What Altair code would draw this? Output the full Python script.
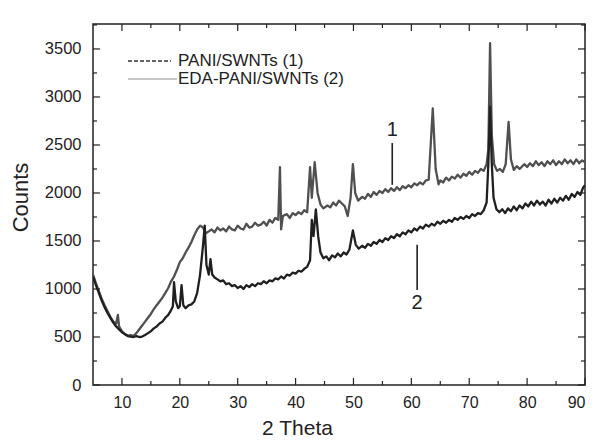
import altair as alt
import pandas as pd

# ---- data ----
x1 = [5.0, 5.5, 6.0, 6.5, 7.0, 7.5, 8.0, 8.5, 9.0, 9.3, 9.5, 10.0, 10.5, 11.0, 11.5, 12.0, 12.5, 13.0, 13.5, 14.0,
      14.5, 15.0, 15.5, 16.0, 16.5, 17.0, 17.5, 18.0, 18.5, 19.0, 19.5, 20.0, 20.5, 21.0, 21.5, 22.0, 22.5, 23.0, 23.5, 24.0,
      24.5, 25.0, 25.5, 26.0, 26.5, 27.0, 27.5, 28.0, 28.5, 29.0, 29.5, 30.0, 30.5, 31.0, 31.5, 32.0, 32.5, 33.0, 33.5, 34.0,
      34.5, 35.0, 35.5, 36.0, 36.5, 37.0, 37.3, 37.5, 37.8, 38.5, 39.0, 39.5, 40.0, 40.5, 41.0, 41.5, 42.0, 42.5, 42.8, 43.3,
      43.8, 44.3, 44.8, 45.5, 46.0, 46.5, 47.0, 47.5, 48.0, 48.5, 49.0, 49.5, 49.9, 50.3, 50.8, 51.5, 52.0, 52.5, 53.0, 53.5,
      54.0, 54.5, 55.0, 55.5, 56.0, 56.5, 57.0, 57.5, 58.0, 58.5, 59.0, 59.5, 60.0, 60.5, 61.0, 61.5, 62.0, 62.5, 63.0, 63.7,
      64.2, 64.7, 65.0, 65.5, 66.0, 66.5, 67.0, 67.5, 68.0, 68.5, 69.0, 69.5, 70.0, 70.5, 71.0, 71.5, 72.0, 72.5, 73.0, 73.3,
      73.6, 73.9, 74.3, 74.8, 75.3, 75.8, 76.3, 76.8, 77.2, 77.7, 78.2, 78.7, 79.5, 80.0, 80.5, 81.0, 81.5, 82.0, 82.5, 83.0,
      83.5, 84.0, 84.5, 85.0, 85.5, 86.0, 86.5, 87.0, 87.5, 88.0, 88.5, 89.0, 89.5, 90.0]
y1 = [1150, 1060, 980, 900, 830, 770, 710, 660, 640, 730, 610, 560, 530, 515, 520, 510, 540, 580, 620, 660,
      700, 740, 790, 830, 870, 910, 960, 1010, 1080, 1130, 1200, 1280, 1320, 1380, 1430, 1490, 1560, 1620, 1660, 1640,
      1580, 1600, 1620, 1590, 1640, 1610, 1630, 1600, 1650, 1620, 1610, 1660, 1630, 1620, 1680, 1640, 1650, 1690, 1660, 1670,
      1700, 1660, 1720, 1690, 1740, 1720, 2270, 1620, 1760, 1780, 1740, 1790, 1770, 1800, 1780, 1820, 1800, 2270, 1950, 2320,
      2000, 1880, 1840, 1870, 1850, 1900, 1870, 1920, 1890, 1860, 1760, 1950, 2300, 2000, 1920, 1960, 1940, 1990, 1960, 2010,
      1980, 2020, 2000, 2040, 2010, 2050, 2020, 2060, 2030, 2070, 2050, 2080, 2060, 2100, 2080, 2110, 2090, 2130, 2140, 2880,
      2250, 2090, 2130, 2110, 2160, 2130, 2170, 2150, 2190, 2160, 2200, 2180, 2220, 2190, 2230, 2210, 2250, 2230, 2300, 2450,
      3560, 2600, 2300, 2230, 2250, 2220, 2300, 2740, 2350, 2240, 2280, 2250, 2300, 2270, 2310, 2280, 2330, 2290, 2320, 2280,
      2330, 2300, 2340, 2290, 2330, 2300, 2350, 2310, 2340, 2300, 2350, 2310, 2340, 2320]

x2 = [5.0, 5.5, 6.0, 6.5, 7.0, 7.5, 8.0, 8.5, 9.0, 9.5, 10.0, 10.5, 11.0, 11.5, 12.0, 12.5, 13.0, 13.5, 14.0, 14.5,
      15.0, 15.5, 16.0, 16.5, 17.0, 17.5, 18.0, 18.5, 18.8, 19.0, 19.3, 19.7, 20.0, 20.3, 20.6, 21.0, 21.5, 22.0, 22.5, 23.0,
      23.5, 24.0, 24.3, 24.6, 25.0, 25.3, 25.6, 26.0, 26.5, 27.0, 27.5, 28.0, 28.5, 29.0, 29.5, 30.0, 30.5, 31.0, 31.5, 32.0,
      32.5, 33.0, 33.5, 34.0, 34.5, 35.0, 35.5, 36.0, 36.5, 37.0, 37.5, 38.0, 38.5, 39.0, 39.5, 40.0, 40.5, 41.0, 41.5, 42.0,
      42.5, 42.8, 43.1, 43.5, 43.9, 44.3, 44.8, 45.3, 45.8, 46.3, 46.8, 47.3, 47.8, 48.3, 48.8, 49.3, 49.9, 50.4, 50.9, 51.5,
      52.0, 52.5, 53.0, 53.5, 54.0, 54.5, 55.0, 55.5, 56.0, 56.5, 57.0, 57.5, 58.0, 58.5, 59.0, 59.5, 60.0, 60.5, 61.0, 61.5,
      62.0, 62.5, 63.0, 63.5, 64.0, 64.5, 65.0, 65.5, 66.0, 66.5, 67.0, 67.5, 68.0, 68.5, 69.0, 69.5, 70.0, 70.5, 71.0, 71.5,
      72.0, 72.5, 73.0, 73.3, 73.6, 73.9, 74.2, 74.7, 75.2, 75.7, 76.2, 76.7, 77.2, 77.7, 78.2, 78.7, 79.2, 79.7, 80.2, 80.7,
      81.2, 81.7, 82.2, 82.7, 83.2, 83.7, 84.2, 84.7, 85.2, 85.7, 86.2, 86.7, 87.2, 87.7, 88.2, 88.7, 89.2, 89.7, 90.0]
y2 = [1130, 1040, 960, 880, 810, 750, 700, 650, 610, 580, 550, 530, 510, 505, 500, 510, 500, 505, 520, 540,
      560, 590, 610, 640, 660, 700, 730, 780, 820, 1070, 870, 800, 820, 1040, 830, 800, 830, 840, 870, 960,
      1150, 1450, 1660, 1250, 1150, 1310, 1150, 1120, 1100, 1080, 1090, 1050, 1060, 1030, 1040, 1010, 1030, 1000, 1040, 1020,
      1050, 1030, 1060, 1050, 1080, 1060, 1090, 1080, 1110, 1100, 1130, 1110, 1150, 1140, 1170, 1160, 1190, 1180, 1210, 1230,
      1300, 1720, 1550, 1830, 1550, 1380, 1320, 1340, 1300, 1350, 1330, 1370, 1340, 1380, 1360, 1410, 1610, 1460, 1420, 1450,
      1430, 1470, 1450, 1490, 1470, 1510, 1490, 1530, 1510, 1550, 1530, 1570, 1550, 1590, 1570, 1610, 1590, 1630, 1610, 1650,
      1630, 1670, 1650, 1680, 1660, 1700, 1680, 1710, 1690, 1720, 1700, 1740, 1720, 1750, 1730, 1760, 1740, 1780, 1760, 1790,
      1780, 1820, 1900, 2300, 2900, 2300, 1950, 1830, 1800, 1830, 1790, 1840, 1810, 1860, 1820, 1870, 1840, 1890, 1860, 1910,
      1870, 1920, 1880, 1910, 1870, 1930, 1890, 1940, 1900, 1950, 1920, 1970, 1930, 1990, 1960, 2010, 1980, 2060, 2080]

series_names = ["PANI/SWNTs (1)", "EDA-PANI/SWNTs (2)"]
x_major = [10, 20, 30, 40, 50, 60, 70, 80, 90]
x_minor = [15, 25, 35, 45, 55, 65, 75, 85]
y_major = [0, 500, 1000, 1500, 2000, 2500, 3000, 3500]
y_minor = [250, 750, 1250, 1750, 2250, 2750, 3250, 3750]
curve_labels = ["1", "2"]
label_x = [56.7, 61.0]
label_y = [2660, 850]
pointer_x = [56.7, 61.0]
pointer_top = [2520, 1460]
pointer_bottom = [2085, 990]

# ---- tables ----
df = pd.concat([
    pd.DataFrame({"x": x1, "y": y1, "s": series_names[0], "o": range(len(x1))}),
    pd.DataFrame({"x": x2, "y": y2, "s": series_names[1], "o": range(len(x2))}),
])
xs = alt.Scale(domain=[5, 90], nice=False, zero=False)
ys = alt.Scale(domain=[0, 3760], nice=False)
FONT = "Liberation Sans"
W, H = 492, 361

XAX = alt.Axis(
    values=x_major, format="d", title="2 Theta", grid=False, ticks=False, domain=False,
    labelFontSize=16, labelPadding=9, labelColor="#222", labelFont=FONT,
    titleFontSize=21, titleFont=FONT, titleFontWeight="normal", titleColor="#222",
    titleX=204, titleY=49, titleAlign="center", titleBaseline="alphabetic")
YAX = alt.Axis(
    values=y_major, format="d", title="Counts", grid=False, ticks=False, domain=False,
    labelFontSize=16.5, labelPadding=12, labelColor="#222", labelFont=FONT,
    titleFontSize=22, titleFont=FONT, titleFontWeight="normal", titleColor="#222",
    titleX=-73, titleY=173, titleAngle=-90, titleAlign="center", titleBaseline="middle")

def X(f):
    return alt.X(f, scale=xs, axis=XAX)

def Y(f):
    return alt.Y(f, scale=ys, axis=YAX)

lines = alt.Chart(df).mark_line(strokeWidth=2.3, strokeJoin="round", clip=True).encode(
    x=X("x:Q"),
    y=Y("y:Q"),
    color=alt.Color("s:N", scale=alt.Scale(domain=series_names, range=["#505050", "#202020"]), legend=None),
    order="o:Q",
)

xmaj = pd.DataFrame({"x": x_major})
xmin = pd.DataFrame({"x": x_minor})
ymaj = pd.DataFrame({"y": y_major})
ymin = pd.DataFrame({"y": y_minor})
tk = dict(color="#222", strokeWidth=1.2)

def xticks(d, length):
    b = alt.Chart(d).mark_rule(**tk).encode(x=X("x:Q"), y=alt.value(H), y2=alt.value(H - length))
    t = alt.Chart(d).mark_rule(**tk).encode(x=X("x:Q"), y=alt.value(0), y2=alt.value(length))
    return [b, t]

def yticks(d, length):
    l = alt.Chart(d).mark_rule(**tk).encode(y=Y("y:Q"), x=alt.value(0), x2=alt.value(length))
    r = alt.Chart(d).mark_rule(**tk).encode(y=Y("y:Q"), x=alt.value(W), x2=alt.value(W - length))
    return [l, r]

ticks = xticks(xmaj, 7) + xticks(xmin, 4) + yticks(ymaj, 7) + yticks(ymin, 4)

ann = pd.DataFrame({"t": curve_labels, "x": label_x, "y": label_y,
                    "px": pointer_x, "y1": pointer_top, "y2": pointer_bottom})
ann_text = alt.Chart(ann).mark_text(fontSize=20, font=FONT, color="#222", baseline="middle").encode(
    x=X("x:Q"), y=Y("y:Q"), text="t:N")
ann_rule = alt.Chart(ann).mark_rule(color="#222", strokeWidth=1.6).encode(
    x=X("px:Q"), y=Y("y1:Q"), y2="y2:Q")

leg1 = pd.DataFrame({"t": [series_names[0]]})
leg2 = pd.DataFrame({"t": [series_names[1]]})
leg_line1 = alt.Chart(leg1).mark_rule(color="#333", strokeWidth=1.3, strokeDash=[4, 2]).encode(
    x=alt.value(35), x2=alt.value(78), y=alt.value(37))
leg_line2 = alt.Chart(leg2).mark_rule(color="#b5b5b5", strokeWidth=1.5).encode(
    x=alt.value(35), x2=alt.value(84), y=alt.value(55))
leg_text1 = alt.Chart(leg1).mark_text(fontSize=17, font=FONT, color="#222", align="left", baseline="middle").encode(
    x=alt.value(85), y=alt.value(37), text="t:N")
leg_text2 = alt.Chart(leg2).mark_text(fontSize=17, font=FONT, color="#222", align="left", baseline="middle").encode(
    x=alt.value(85), y=alt.value(55), text="t:N")

chart = alt.layer(lines, *ticks, ann_rule, ann_text, leg_line1, leg_line2, leg_text1, leg_text2).properties(
    width=W, height=H,
    autosize=alt.AutoSizeParams(type="none"),
    padding={"left": 93, "top": 24, "right": 15, "bottom": 56},
    background="white",
).configure_view(stroke="#222", strokeWidth=1.5)

chart.save("out.html", embed_options={"renderer": "svg", "actions": False})
